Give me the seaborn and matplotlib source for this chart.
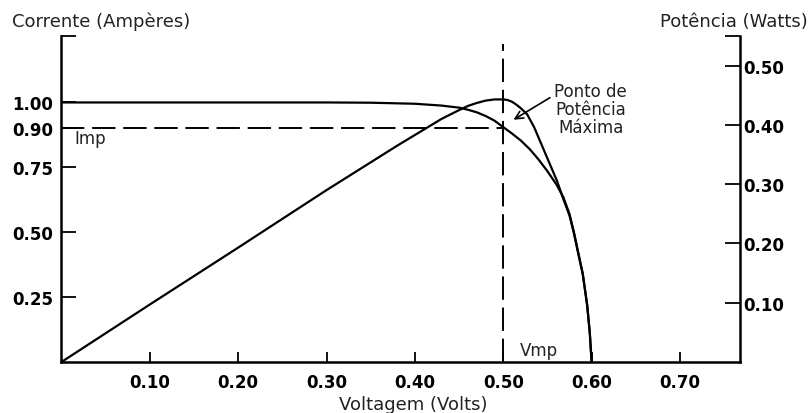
import numpy as np
import seaborn as sns
import matplotlib.pyplot as plt

# curva I-V (corrente em A)
volt_i = [0.0, 0.10, 0.20, 0.30, 0.35, 0.40, 0.43, 0.45, 0.46, 0.47, 0.48, 0.49, 0.50, 0.51,
          0.52, 0.53, 0.54, 0.55, 0.56, 0.568, 0.575, 0.58, 0.585, 0.59, 0.595, 0.598, 0.60]
corrente = [1.0, 1.0, 1.0, 1.0, 0.999, 0.995, 0.988, 0.980, 0.972, 0.962, 0.948, 0.930, 0.905,
            0.880, 0.853, 0.820, 0.780, 0.735, 0.685, 0.635, 0.570, 0.500, 0.420, 0.340,
            0.220, 0.110, 0.0]

# curva P-V (potencia em W)
volt_p = [0.0, 0.10, 0.20, 0.30, 0.38, 0.41, 0.43, 0.45, 0.46, 0.47, 0.48, 0.49, 0.50,
          0.505, 0.51, 0.515, 0.52, 0.527, 0.535, 0.545, 0.553, 0.561, 0.568, 0.575, 0.58,
          0.585, 0.59, 0.595, 0.598, 0.60]
potencia = [0.0, 0.097, 0.193, 0.290, 0.365, 0.392, 0.410, 0.425, 0.432, 0.437, 0.441, 0.443,
            0.443, 0.442, 0.439, 0.434, 0.428, 0.418, 0.396, 0.361, 0.333, 0.305, 0.275,
            0.247, 0.217, 0.182, 0.148, 0.095, 0.048, 0.0]

vmp = 0.50
imp = 0.90

xticks = [0.10, 0.20, 0.30, 0.40, 0.50, 0.60, 0.70]
yticks_i = [0.25, 0.50, 0.75, 0.90, 1.00]
yticks_p = [0.10, 0.20, 0.30, 0.40, 0.50]

sns.set_style("ticks")
plt.rcParams['font.family'] = ['DejaVu Sans']
plt.rcParams['text.color'] = 'black'
plt.rcParams['xtick.color'] = 'black'
plt.rcParams['ytick.color'] = 'black'
plt.rcParams['axes.edgecolor'] = 'black'

fig = plt.figure(figsize=(8.11, 4.14), dpi=100)
ax = fig.add_axes([0.0758, 0.1232, 0.8367, 0.7874])
ax2 = ax.twinx()

sns.lineplot(x=volt_i, y=corrente, ax=ax, color="black", lw=1.6, sort=False)
sns.lineplot(x=volt_p, y=potencia, ax=ax2, color="black", lw=1.6, sort=False)

# linhas tracejadas do ponto de potencia maxima
ax.hlines(imp, 0, vmp, colors="black", lw=1.4, linestyles=(0, (12, 4)))
ax.vlines(vmp, 0, 1.225, colors="black", lw=1.4, linestyles=(0, (12, 4)))

ymax_i = 1.256
ymax_p = 0.55
ax.set_xlim(0, 0.768)
ax.set_ylim(0, ymax_i)
ax2.set_ylim(0, ymax_p)

ax.set_xticks(xticks)
ax.set_xticklabels([f"{v:.2f}" for v in xticks], fontweight="bold", fontsize=12)
ax.set_yticks(yticks_i + [ymax_i])
ax.set_yticklabels([f"{v:.2f}" for v in yticks_i] + [""], fontweight="bold", fontsize=12)
ax2.set_yticks(yticks_p + [ymax_p])
ax2.set_yticklabels([f"{v:.2f}" for v in yticks_p] + [""], fontweight="bold", fontsize=12)

ax.tick_params(axis="x", direction="in", length=7, width=1.3, pad=8)
ax.tick_params(axis="y", direction="in", length=10.5, width=1.3, pad=6)
ax2.tick_params(axis="y", direction="in", length=11, width=1.3, pad=2)

for s in ["top", "right"]:
    ax.spines[s].set_visible(False)
for s in ["top", "left", "bottom"]:
    ax2.spines[s].set_visible(False)
ax.spines["left"].set_linewidth(1.8)
ax.spines["bottom"].set_linewidth(1.8)
ax2.spines["right"].set_linewidth(1.8)

ax.set_xlabel("")
ax.set_ylabel("")
ax2.set_ylabel("")

fig.text(0.0148, 0.947, "Corrente (Ampères)", fontsize=13, ha="left", va="center", color="#222222")
fig.text(0.996, 0.947, "Potência (Watts)", fontsize=13, ha="right", va="center", color="#222222")
fig.text(0.51, 0.022, "Voltagem (Volts)", fontsize=13, ha="center", va="center", color="#222222")

ax.text(0.015, 0.862, "Imp", fontsize=12, ha="left", va="center", color="#222222")
ax.text(0.519, 0.048, "Vmp", fontsize=12, ha="left", va="center", color="#222222")
ax.text(0.599, 0.974, "Ponto de\nPotência\nMáxima", fontsize=12, ha="center", va="center",
        linespacing=1.0, color="#222222")
ax.annotate("", xy=(0.509, 0.928), xytext=(0.5555, 1.024),
            arrowprops=dict(arrowstyle="->", color="black", lw=1.2, mutation_scale=14))

fig.savefig("out.png", dpi=100)
